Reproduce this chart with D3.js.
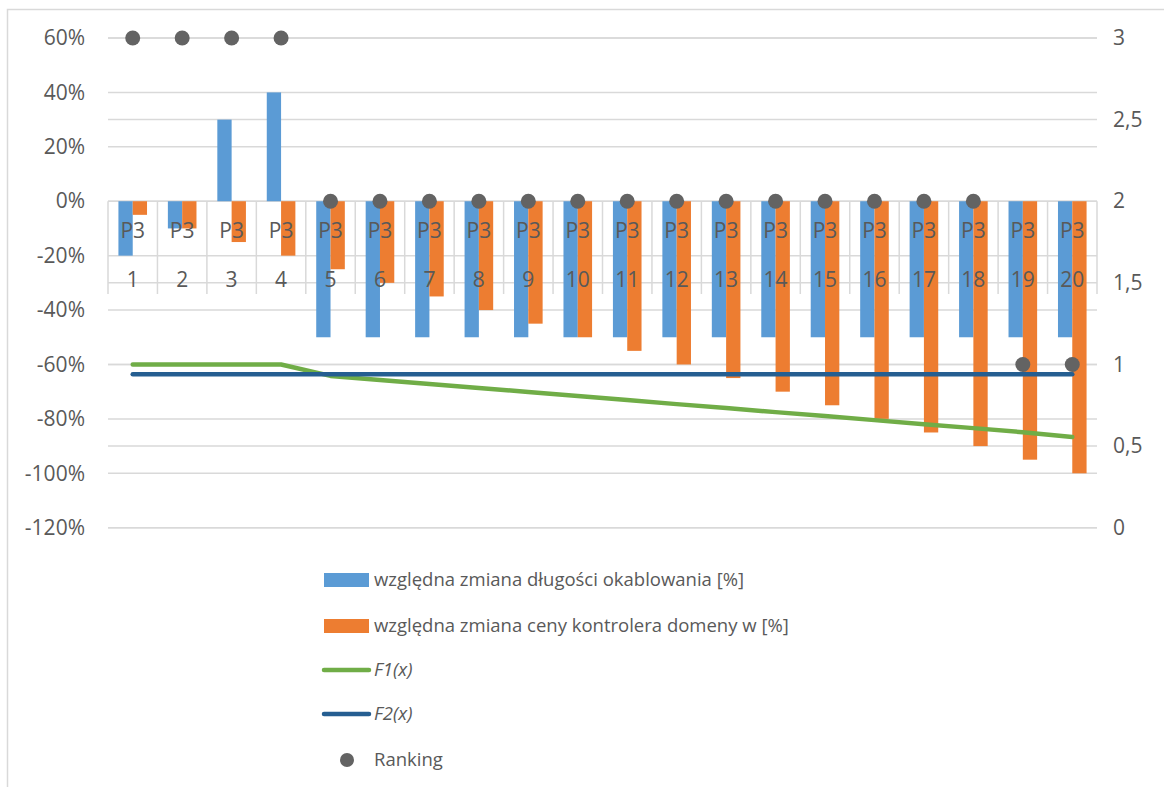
<!DOCTYPE html>
<html>
<head>
<meta charset="utf-8">
<script src="https://cdn.jsdelivr.net/npm/d3@7"></script>
<style>
  html, body { margin: 0; padding: 0; background: #fff; }
  svg { display: block; font-family: "Open Sans", sans-serif; }
</style>
</head>
<body>
<svg id="chart" width="1164" height="787"></svg>
<script>
// Categories (scenario numbers) and the label shown above each one
const categories = ["1","2","3","4","5","6","7","8","9","10","11","12","13","14","15","16","17","18","19","20"];
const pointLabels = ["P3","P3","P3","P3","P3","P3","P3","P3","P3","P3","P3","P3","P3","P3","P3","P3","P3","P3","P3","P3"];

// Relative change of cabling length [%] (left axis, fractions)
const cablingChange = [-0.20, -0.10, 0.30, 0.40, -0.50, -0.50, -0.50, -0.50, -0.50, -0.50,
                       -0.50, -0.50, -0.50, -0.50, -0.50, -0.50, -0.50, -0.50, -0.50, -0.50];
// Relative change of domain controller price [%] (left axis, fractions)
const controllerChange = [-0.05, -0.10, -0.15, -0.20, -0.25, -0.30, -0.35, -0.40, -0.45, -0.50,
                          -0.55, -0.60, -0.65, -0.70, -0.75, -0.80, -0.85, -0.90, -0.95, -1.00];
// F1(x), F2(x) and Ranking (right axis)
const f1 = [1.00, 1.00, 1.00, 1.00, 0.93, 0.905, 0.88, 0.856, 0.832, 0.807,
            0.782, 0.757, 0.733, 0.708, 0.684, 0.659, 0.634, 0.61, 0.585, 0.555];
const f2 = [0.94, 0.94, 0.94, 0.94, 0.94, 0.94, 0.94, 0.94, 0.94, 0.94,
            0.94, 0.94, 0.94, 0.94, 0.94, 0.94, 0.94, 0.94, 0.94, 0.94];
const ranking = [3, 3, 3, 3, 2, 2, 2, 2, 2, 2, 2, 2, 2, 2, 2, 2, 2, 2, 1, 1];

// Axis ticks
const leftTicks = [0.6, 0.4, 0.2, 0, -0.2, -0.4, -0.6, -0.8, -1.0, -1.2];
const rightTicks = [3, 2.5, 2, 1.5, 1, 0.5, 0];

const legendItems = [
  { name: "względna zmiana długości okablowania [%]", type: "rect", color: "#5b9bd5" },
  { name: "względna zmiana ceny kontrolera domeny w [%]", type: "rect", color: "#ed7d31" },
  { name: "F1(x)", type: "line", color: "#70ad47", italic: true },
  { name: "F2(x)", type: "line", color: "#255e91", italic: true },
  { name: "Ranking", type: "dot", color: "#636363" }
];

const textColor = "#595959";
const gridColor = "#d9d9d9";
const axisFont = "21px";

const svg = d3.select("#chart");

// Chart frame
svg.append("rect")
  .attr("x", 7.5).attr("y", 9.5)
  .attr("width", 1200).attr("height", 820)
  .attr("fill", "#fff").attr("stroke", gridColor).attr("stroke-width", 1.5);

const plot = { left: 108, right: 1097, top: 38, bottom: 527.7 };

const x = d3.scaleBand().domain(categories).range([plot.left, plot.right]).padding(0);
const yL = d3.scaleLinear().domain([-1.2, 0.6]).range([plot.bottom, plot.top]);
const yR = d3.scaleLinear().domain([0, 3]).range([plot.bottom, plot.top]);
const barW = 14.3;
const inner = d3.scaleBand().domain(["cabling", "controller"]).range([-barW, barW]).padding(0);
const cx = c => x(c) + x.bandwidth() / 2;

// Gridlines for both value axes
const grid = svg.append("g");
grid.selectAll("line.gl")
  .data(leftTicks)
  .join("line")
  .attr("x1", plot.left).attr("x2", plot.right)
  .attr("y1", d => yL(d)).attr("y2", d => yL(d))
  .attr("stroke", gridColor).attr("stroke-width", 1.5);
grid.selectAll("line.gr")
  .data(rightTicks)
  .join("line")
  .attr("x1", plot.left).attr("x2", plot.right)
  .attr("y1", d => yR(d)).attr("y2", d => yR(d))
  .attr("stroke", gridColor).attr("stroke-width", 1.5);

// Category tick marks, hanging from the 0% line
const tickBottom = 294;
const bounds = categories.map(c => x(c)).concat([x(categories[categories.length - 1]) + x.bandwidth()]);
grid.selectAll("line.ct")
  .data(bounds)
  .join("line")
  .attr("x1", d => d).attr("x2", d => d)
  .attr("y1", yL(0)).attr("y2", tickBottom)
  .attr("stroke", gridColor).attr("stroke-width", 1.5);

// Left axis labels
svg.append("g")
  .attr("transform", `translate(${plot.left},0)`)
  .call(d3.axisLeft(yL).tickValues(leftTicks).tickSize(0).tickPadding(23)
        .tickFormat(d => d3.format(".0%")(d).replace("−", "-")))
  .call(g => g.select(".domain").remove())
  .call(g => g.selectAll("text").attr("fill", textColor).style("font-size", axisFont)
        .style("font-family", "'Open Sans', sans-serif"));

// Right axis labels
svg.append("g")
  .attr("transform", `translate(${plot.right},0)`)
  .call(d3.axisRight(yR).tickValues(rightTicks).tickSize(0).tickPadding(16)
        .tickFormat(d => String(d).replace(".", ",")))
  .call(g => g.select(".domain").remove())
  .call(g => g.selectAll("text").attr("fill", textColor).style("font-size", axisFont)
        .style("font-family", "'Open Sans', sans-serif"));

// Bars
const bars = svg.append("g");
bars.selectAll("rect.cab")
  .data(categories)
  .join("rect")
  .attr("x", (c) => cx(c) + inner("cabling"))
  .attr("width", inner.bandwidth())
  .attr("y", (c, i) => yL(Math.max(0, cablingChange[i])))
  .attr("height", (c, i) => Math.abs(yL(cablingChange[i]) - yL(0)))
  .attr("fill", "#5b9bd5");
bars.selectAll("rect.ctl")
  .data(categories)
  .join("rect")
  .attr("x", (c) => cx(c) + inner("controller"))
  .attr("width", inner.bandwidth())
  .attr("y", (c, i) => yL(Math.max(0, controllerChange[i])))
  .attr("height", (c, i) => Math.abs(yL(controllerChange[i]) - yL(0)))
  .attr("fill", "#ed7d31");

// Point labels and category labels
const labels = svg.append("g")
  .attr("fill", textColor)
  .style("font-size", axisFont)
  .attr("text-anchor", "middle");
labels.selectAll("text.pl")
  .data(categories)
  .join("text")
  .attr("x", c => cx(c))
  .attr("y", 231)
  .attr("dy", "0.35em")
  .text((c, i) => pointLabels[i]);
labels.selectAll("text.cat")
  .data(categories)
  .join("text")
  .attr("x", c => cx(c))
  .attr("y", 280)
  .attr("dy", "0.35em")
  .text(c => c);

// Lines F1, F2
const line = vals => d3.line()
  .x((d, i) => cx(categories[i]))
  .y(d => yR(d))(vals);
svg.append("path")
  .attr("d", line(f1))
  .attr("fill", "none").attr("stroke", "#70ad47")
  .attr("stroke-width", 4.5).attr("stroke-linecap", "round").attr("stroke-linejoin", "round");
svg.append("path")
  .attr("d", line(f2))
  .attr("fill", "none").attr("stroke", "#255e91")
  .attr("stroke-width", 4.5).attr("stroke-linecap", "round").attr("stroke-linejoin", "round");

// Ranking markers
svg.append("g").selectAll("circle")
  .data(categories)
  .join("circle")
  .attr("cx", c => cx(c))
  .attr("cy", (c, i) => yR(ranking[i]))
  .attr("r", 7.5)
  .attr("fill", "#636363");

// Legend
const legendRows = [580, 626, 670, 714, 760];
const legend = svg.append("g");
legendItems.forEach((item, i) => {
  const y = legendRows[i];
  const g = legend.append("g");
  if (item.type === "rect") {
    g.append("rect").attr("x", 324).attr("y", y - 7).attr("width", 45).attr("height", 14).attr("fill", item.color);
  } else if (item.type === "line") {
    g.append("line").attr("x1", 324).attr("x2", 369).attr("y1", y).attr("y2", y)
      .attr("stroke", item.color).attr("stroke-width", 4.5).attr("stroke-linecap", "round");
  } else {
    g.append("circle").attr("cx", 347).attr("cy", y).attr("r", 7).attr("fill", item.color);
  }
  g.append("text")
    .attr("x", 374).attr("y", y).attr("dy", "0.35em")
    .attr("fill", textColor)
    .style("font-size", "18.5px")
    .style("font-style", item.italic ? "italic" : "normal")
    .text(item.name);
});
</script>
</body>
</html>
